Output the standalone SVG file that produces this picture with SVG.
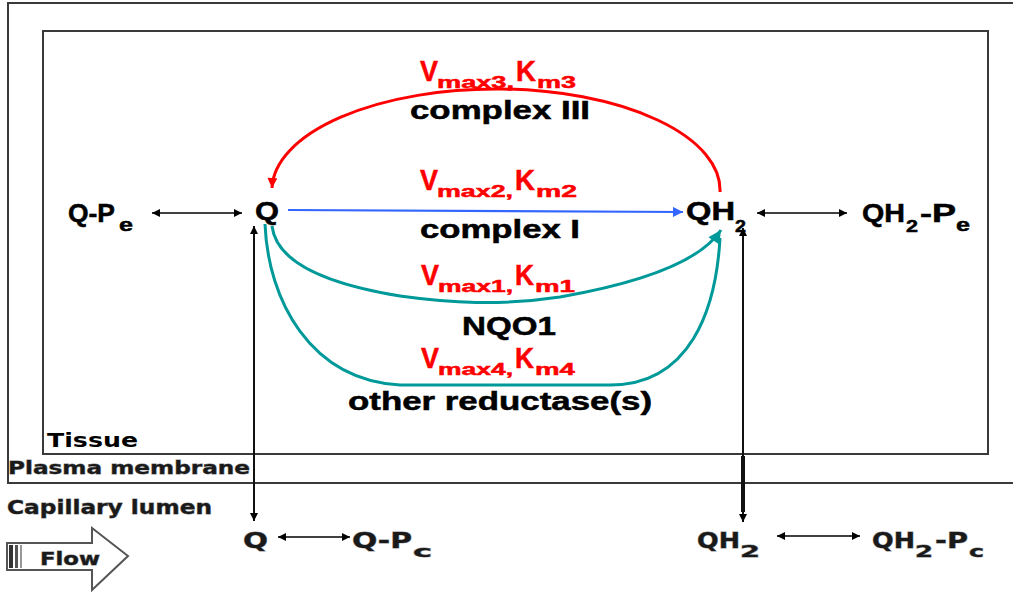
<svg xmlns="http://www.w3.org/2000/svg" width="1013" height="592" viewBox="0 0 1013 592">
<style>
.f{font-family:"Liberation Sans",Arial,sans-serif;font-weight:bold;fill:#000;stroke:#000;stroke-width:0.5}
.r{fill:#ff0000;stroke:#ff0000}
.v{font-family:"DejaVu Sans",Verdana,sans-serif;font-weight:bold;fill:#1a1a1a;stroke:#8a8a8a;stroke-width:0.8;paint-order:stroke}
.t{font-family:"DejaVu Sans",Verdana,sans-serif;font-weight:bold;fill:#000}
.frame{fill:none;stroke:#3a3a3a;stroke-width:2}
.blk{fill:none;stroke:#000;stroke-width:1.6}
.vert{fill:none;stroke:#111;stroke-width:2}
</style>
<defs>
<marker id="ab" viewBox="0 0 10 10" refX="10" refY="5" markerWidth="9" markerHeight="8" markerUnits="userSpaceOnUse" orient="auto-start-reverse"><path d="M0,0 L10,5 L0,10 z" fill="#000"/></marker>
<marker id="ar" viewBox="0 0 10 10" refX="10" refY="5" markerWidth="11" markerHeight="10" markerUnits="userSpaceOnUse" orient="auto"><path d="M0,0 L10,5 L0,10 z" fill="#ff0000"/></marker>
<marker id="au" viewBox="0 0 10 10" refX="10" refY="5" markerWidth="12" markerHeight="10" markerUnits="userSpaceOnUse" orient="auto"><path d="M0,0 L10,5 L0,10 z" fill="#3366ff"/></marker>
<marker id="at" viewBox="0 0 10 10" refX="10" refY="5" markerWidth="14" markerHeight="13" markerUnits="userSpaceOnUse" orient="auto"><path d="M0,0 L10,5 L0,10 z" fill="#009999"/></marker>
</defs>

<g id="frames">
<path class="frame" d="M1013 3 H8 V483 H1013"/>
<rect class="frame" x="43" y="31" width="945" height="423"/>
</g>

<g id="region-labels">
<text class="t" x="47" y="447" font-size="20" textLength="91" lengthAdjust="spacingAndGlyphs">Tissue</text>
<text class="v" x="8" y="474" font-size="18" textLength="242" lengthAdjust="spacingAndGlyphs">Plasma membrane</text>
<text class="v" x="7" y="514" font-size="19" textLength="205" lengthAdjust="spacingAndGlyphs">Capillary lumen</text>
</g>

<g id="flow">
<path d="M7 543 H92 V528 L128 556 L92 590 V570 H7 Z" fill="#fff" stroke="#555" stroke-width="2"/>
<rect x="9" y="545" width="4" height="23" fill="#333"/>
<rect x="15" y="545" width="3" height="23" fill="#555"/>
<line x1="21" y1="545" x2="21" y2="568" stroke="#777" stroke-width="1.5"/>
<text class="v" x="40" y="565" font-size="17" textLength="60" lengthAdjust="spacingAndGlyphs">Flow</text>
</g>

<g id="connectors">
<path d="M720 192 A224 101 0 0 0 272 188" fill="none" stroke="#ff0000" stroke-width="3" marker-end="url(#ar)"/>
<line x1="288" y1="210" x2="683" y2="212" stroke="#3366ff" stroke-width="2.2" marker-end="url(#au)"/>
<path d="M272 226 C276 260 320 283 400 296 C450 303 500 306 560 297 C640 283 700 262 721 230" fill="none" stroke="#009999" stroke-width="3" marker-end="url(#at)"/>
<path d="M265 224 C268 300 310 380 400 385 L610 385 C690 385 716 310 720 238" fill="none" stroke="#009999" stroke-width="3"/>
<line class="blk" x1="152" y1="213" x2="242" y2="213" marker-start="url(#ab)" marker-end="url(#ab)"/>
<line class="blk" x1="757" y1="213" x2="847" y2="213" marker-start="url(#ab)" marker-end="url(#ab)"/>
<line class="vert" x1="254" y1="226" x2="254" y2="521" marker-start="url(#ab)" marker-end="url(#ab)"/>
<line class="vert" x1="743" y1="228" x2="743" y2="522" marker-start="url(#ab)" marker-end="url(#ab)"/>
<line x1="743" y1="456" x2="743" y2="512" stroke="#111" stroke-width="4"/>
<line class="blk" x1="278" y1="537" x2="350" y2="537" marker-start="url(#ab)" marker-end="url(#ab)"/>
<line class="blk" x1="777" y1="536" x2="860" y2="536" marker-start="url(#ab)" marker-end="url(#ab)"/>
</g>

<g id="node-QPe">
<text class="f" x="68" y="222" font-size="25" textLength="47" lengthAdjust="spacingAndGlyphs">Q-P</text>
<text class="f" x="119" y="231" font-size="19" textLength="14" lengthAdjust="spacingAndGlyphs">e</text>
</g>
<g id="node-Q">
<text class="f" x="255" y="220" font-size="25" textLength="24" lengthAdjust="spacingAndGlyphs">Q</text>
</g>
<g id="node-QH2">
<text class="f" x="686" y="220" font-size="25" textLength="49" lengthAdjust="spacingAndGlyphs">QH</text>
<text class="f" x="735" y="232" font-size="17" textLength="11" lengthAdjust="spacingAndGlyphs">2</text>
</g>
<g id="node-QH2Pe">
<text class="f" x="862" y="222" font-size="25" textLength="43" lengthAdjust="spacingAndGlyphs">QH</text>
<text class="f" x="906" y="232" font-size="17" textLength="12" lengthAdjust="spacingAndGlyphs">2</text>
<text class="f" x="920" y="222" font-size="25" textLength="36" lengthAdjust="spacingAndGlyphs">-P</text>
<text class="f" x="956" y="231" font-size="19" textLength="14" lengthAdjust="spacingAndGlyphs">e</text>
</g>

<g id="label-complexIII">
<text class="f r" x="420" y="81" font-size="29" textLength="18" lengthAdjust="spacingAndGlyphs">V</text>
<text class="f r" x="437" y="88" font-size="17" textLength="77" lengthAdjust="spacingAndGlyphs">max3,</text>
<text class="f r" x="516" y="81" font-size="29" textLength="20" lengthAdjust="spacingAndGlyphs">K</text>
<text class="f r" x="537" y="88" font-size="17" textLength="39" lengthAdjust="spacingAndGlyphs">m3</text>
<text class="f" x="410" y="119" font-size="25" textLength="180" lengthAdjust="spacingAndGlyphs">complex III</text>
</g>
<g id="label-complexI">
<text class="f r" x="420" y="190" font-size="29" textLength="18" lengthAdjust="spacingAndGlyphs">V</text>
<text class="f r" x="437" y="197" font-size="17" textLength="76" lengthAdjust="spacingAndGlyphs">max2,</text>
<text class="f r" x="515" y="190" font-size="29" textLength="20" lengthAdjust="spacingAndGlyphs">K</text>
<text class="f r" x="536" y="197" font-size="17" textLength="41" lengthAdjust="spacingAndGlyphs">m2</text>
<text class="f" x="420" y="238" font-size="25" textLength="160" lengthAdjust="spacingAndGlyphs">complex I</text>
</g>
<g id="label-NQO1">
<text class="f r" x="421" y="285" font-size="29" textLength="18" lengthAdjust="spacingAndGlyphs">V</text>
<text class="f r" x="438" y="292" font-size="17" textLength="75" lengthAdjust="spacingAndGlyphs">max1,</text>
<text class="f r" x="515" y="285" font-size="29" textLength="19" lengthAdjust="spacingAndGlyphs">K</text>
<text class="f r" x="535" y="292" font-size="17" textLength="40" lengthAdjust="spacingAndGlyphs">m1</text>
<text class="f" x="462" y="335" font-size="25" textLength="94" lengthAdjust="spacingAndGlyphs">NQO1</text>
</g>
<g id="label-other">
<text class="f r" x="421" y="368" font-size="29" textLength="18" lengthAdjust="spacingAndGlyphs">V</text>
<text class="f r" x="438" y="375" font-size="17" textLength="75" lengthAdjust="spacingAndGlyphs">max4,</text>
<text class="f r" x="515" y="368" font-size="29" textLength="19" lengthAdjust="spacingAndGlyphs">K</text>
<text class="f r" x="535" y="375" font-size="17" textLength="40" lengthAdjust="spacingAndGlyphs">m4</text>
<text class="f" x="348" y="410" font-size="25" textLength="304" lengthAdjust="spacingAndGlyphs">other reductase(s)</text>
</g>

<g id="node-Qc">
<text class="v" x="243" y="548" font-size="22" textLength="25" lengthAdjust="spacingAndGlyphs">Q</text>
</g>
<g id="node-QPc">
<text class="v" x="352" y="548" font-size="22" textLength="60" lengthAdjust="spacingAndGlyphs">Q-P</text>
<text class="v" x="413" y="557" font-size="15" textLength="19" lengthAdjust="spacingAndGlyphs">c</text>
</g>
<g id="node-QH2c">
<text class="v" x="697" y="548" font-size="22" textLength="43" lengthAdjust="spacingAndGlyphs">QH</text>
<text class="v" x="740" y="557" font-size="15" textLength="20" lengthAdjust="spacingAndGlyphs">2</text>
</g>
<g id="node-QH2Pc">
<text class="v" x="872" y="548" font-size="22" textLength="43" lengthAdjust="spacingAndGlyphs">QH</text>
<text class="v" x="915" y="557" font-size="15" textLength="18" lengthAdjust="spacingAndGlyphs">2</text>
<text class="v" x="935" y="548" font-size="22" textLength="33" lengthAdjust="spacingAndGlyphs">-P</text>
<text class="v" x="969" y="557" font-size="15" textLength="15" lengthAdjust="spacingAndGlyphs">c</text>
</g>
</svg>
